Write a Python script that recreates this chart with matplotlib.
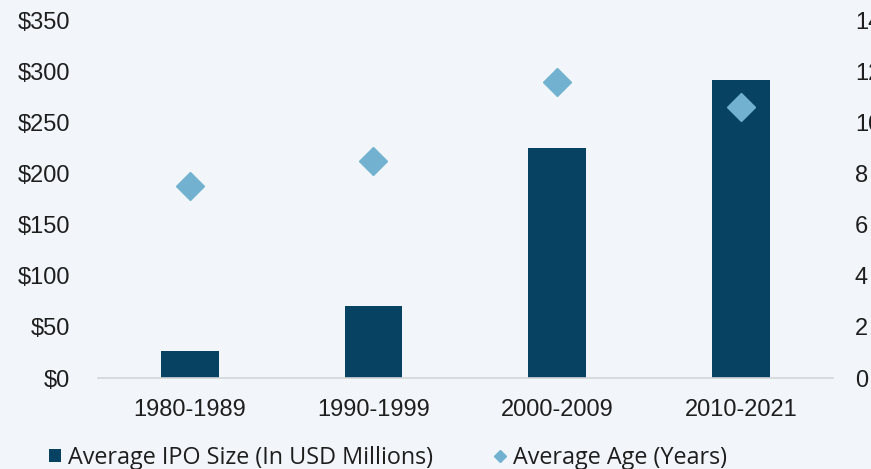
import matplotlib.pyplot as plt
from matplotlib.lines import Line2D
from matplotlib.patches import Patch

# Durchschnittliche IPO-Größe und Alter nach Jahrzehnt
zeitraeume = ['1980-1989', '1990-1999', '2000-2009', '2010-2021']
ipo_groesse = [26, 70, 225, 291]
alter_jahre = [7.5, 8.5, 11.6, 10.6]

hintergrund = '#F2F6FA'
balken_farbe = '#074263'
raute_farbe = '#72B1D0'
textfarbe = '#1E1E1E'

plt.rcParams['font.family'] = ['Liberation Sans', 'DejaVu Sans']

fig = plt.figure(figsize=(8.71, 4.69), dpi=100, facecolor=hintergrund)
ax = fig.add_axes([0.1125, 0.194, 0.8435, 0.763])
ax.set_facecolor(hintergrund)

x = list(range(len(zeitraeume)))
ax.bar(x, ipo_groesse, width=0.315, color=balken_farbe, zorder=2)
ax.set_xlim(-0.5, len(zeitraeume) - 0.5)
ax.set_ylim(0, 350)
ax.set_yticks(range(0, 351, 50))
ax.set_yticklabels([f'${v}' for v in range(0, 351, 50)])
ax.set_xticks(x)
ax.set_xticklabels(zeitraeume)

ax2 = ax.twinx()
ax2.plot(x, alter_jahre, linestyle='none', marker='D', markersize=14,
         color=raute_farbe, zorder=3)
ax2.set_ylim(0, 14)
ax2.set_yticks(range(0, 15, 2))

for a in (ax, ax2):
    for s in a.spines.values():
        s.set_visible(False)
ax.spines['bottom'].set_visible(True)
ax.spines['bottom'].set_color('#D3D6D9')
ax.spines['bottom'].set_linewidth(1.2)

ax.tick_params(axis='y', length=0, pad=20, labelsize=17, labelcolor=textfarbe)
ax.tick_params(axis='x', length=0, pad=15, labelsize=17, labelcolor=textfarbe)
ax2.tick_params(axis='y', length=0, pad=16, labelsize=17, labelcolor=textfarbe)

handles = [
    Patch(facecolor=balken_farbe, edgecolor='none'),
    Line2D([], [], linestyle='none', marker='D', markersize=6.5, color=raute_farbe),
]
fig.legend(handles, ['Average IPO Size (In USD Millions)', 'Average Age (Years)'],
           loc='center left', bbox_to_anchor=(0.043, 0.024), ncol=2, frameon=False,
           prop={'family': ['Open Sans', 'DejaVu Sans'], 'size': 16.8},
           handlelength=0.5, handleheight=0.5, handletextpad=0.3,
           columnspacing=2.65, labelcolor=textfarbe, borderpad=0)

fig.savefig('out.png', dpi=100, facecolor=hintergrund)
